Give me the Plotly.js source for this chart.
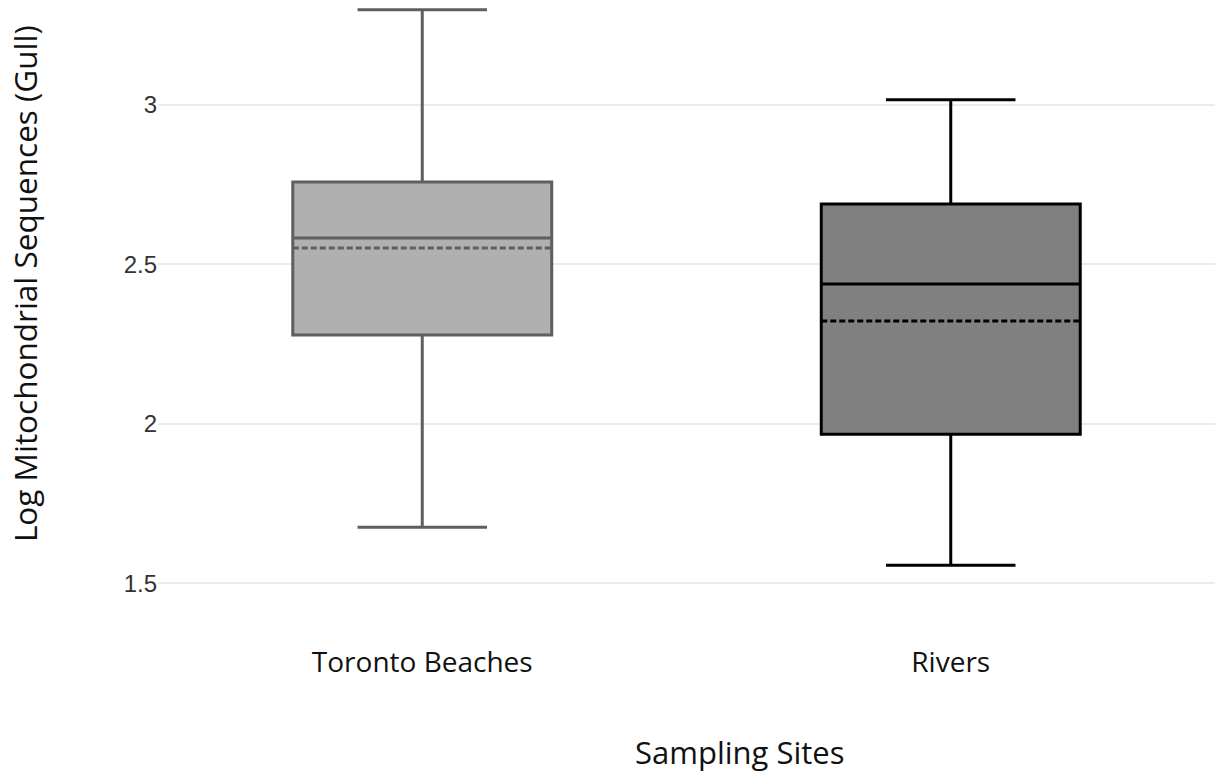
<!DOCTYPE html>
<html>
<head>
<meta charset="utf-8">
<script src="https://cdn.plot.ly/plotly-3.0.1.min.js"></script>
<style>html,body{margin:0;padding:0;background:#fff;}#chart{width:1225px;height:783px;}</style>
</head>
<body>
<div id="chart"></div>
<script>
const categories = ["Toronto Beaches", "Rivers"];
const lowerWhisker = [1.675, 1.556];
const q1Values = [2.278, 1.967];
const medianValues = [2.582, 2.438];
const meanValues = [2.551, 2.322];
const q3Values = [2.758, 2.689];
const upperWhisker = [3.298, 3.016];
const fillColors = ["#b0b0b0", "#808080"];
const lineColors = ["#5f5f5f", "#000000"];
const yTickVals = [1.5, 2, 2.5, 3];
const yTickText = ["1.5", "2", "2.5", "3"];
const xTitle = "Sampling Sites";
const yTitle = "Log Mitochondrial Sequences (Gull)";

const traces = categories.map((c, i) => ({
  type: "box",
  x: [c],
  q1: [q1Values[i]],
  median: [medianValues[i]],
  q3: [q3Values[i]],
  lowerfence: [lowerWhisker[i]],
  upperfence: [upperWhisker[i]],
  mean: [meanValues[i]],
  boxmean: true,
  width: 0.49,
  whiskerwidth: 0.5,
  fillcolor: fillColors[i],
  line: {color: lineColors[i], width: 3},
  boxpoints: false,
  hoverinfo: "none",
  showlegend: false
}));

const xTitleFont = {family: "Open Sans", size: 31, color: "#111"};
const yTitleFont = {family: "Open Sans", size: 31.5, color: "#111"};

const layout = {
  width: 1225, height: 783,
  margin: {l: 158, r: 10, t: 6, b: 168},
  paper_bgcolor: "#fff", plot_bgcolor: "#fff",
  boxmode: "overlay",
  showlegend: false,
  xaxis: {
    type: "category",
    categoryorder: "array",
    categoryarray: categories,
    range: [-0.5, 1.5],
    showgrid: false, zeroline: false, showline: false,
    ticks: "",
    ticklabelstandoff: 28,
    tickfont: {family: "Open Sans", size: 28, color: "#111"}
  },
  yaxis: {
    range: [1.4, 3.31],
    tickvals: yTickVals, ticktext: yTickText,
    showgrid: true, gridcolor: "#ebebeb", gridwidth: 2,
    zeroline: false, showline: false, ticks: "",
    tickfont: {family: "Liberation Sans, Arial", size: 24, color: "#333"}
  },
  annotations: [
    {text: xTitle, xref: "paper", yref: "paper", x: 0.551, y: -0.225,
     xanchor: "center", yanchor: "middle", showarrow: false, font: xTitleFont},
    {text: yTitle, xref: "paper", yref: "paper", x: -0.1268, y: 0.545, textangle: -90,
     xanchor: "center", yanchor: "middle", showarrow: false, font: yTitleFont}
  ]
};

Plotly.newPlot("chart", traces, layout, {displayModeBar: false, staticPlot: true});
</script>
</body>
</html>
